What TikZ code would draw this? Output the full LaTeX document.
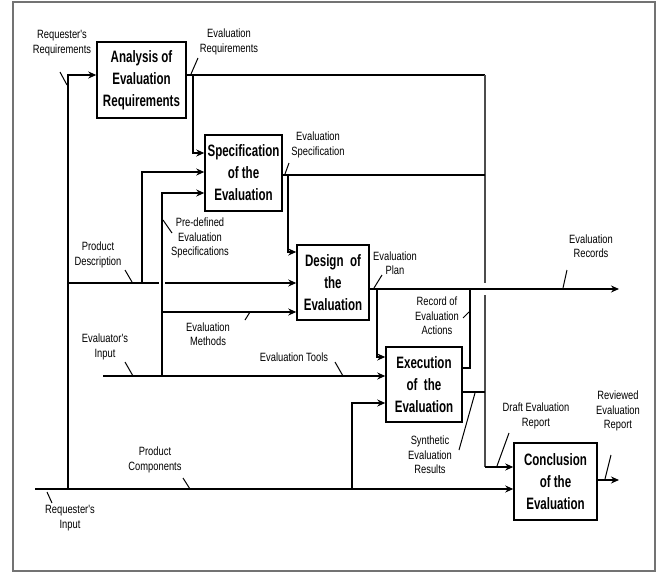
\documentclass[tikz,border=0pt]{standalone}
\usepackage{fontspec}
\setmainfont{Liberation Sans}
\newfontfamily\lblfont[FakeStretch=0.78]{Liberation Sans}
\newfontfamily\bxfont[FakeStretch=0.70]{Liberation Sans Bold}
\usetikzlibrary{arrows.meta}
\begin{document}
\begin{tikzpicture}[x=1pt,y=-1pt,
  procbox/.style={draw=black, line width=1.5pt, fill=white, inner sep=0pt, align=center,
    font=\bxfont\fontsize{16.5}{22}\selectfont},
  lbl/.style={inner sep=0pt, align=center, font=\lblfont\fontsize{12}{14.5}\selectfont},
  ln/.style={draw=black, line width=1.4pt},
  vln/.style={draw=black!70, line width=1.6pt},
  arr/.style={-{Stealth[length=8pt,width=7pt]}},
  tick/.style={draw=black, line width=1pt}]
\useasboundingbox (0,0) rectangle (659,573);
\draw[black!55, line width=2pt] (13,2) rectangle (655,571);

% boxes
\node[procbox, minimum width=89pt, minimum height=76pt] (A) at (141.5,80) {Analysis of\\Evaluation\\Requirements};
\node[procbox, minimum width=77pt, minimum height=76pt] (S) at (243.5,173) {Specification\\of the\\Evaluation};
\node[procbox, minimum width=72pt, minimum height=75pt] (D) at (333,282.5) {Design\ \ of\\the\\Evaluation};
\node[procbox, minimum width=76pt, minimum height=75pt] (E) at (424,384.5) {Execution\\of\ \ the\\Evaluation};
\node[procbox, minimum width=83pt, minimum height=77pt] (C) at (555.5,481.5) {Conclusion\\of the\\Evaluation};

% junction coordinates
\coordinate (rin) at (35,489);
\coordinate (rj) at (68,489);
\coordinate (rt) at (68,75);
\coordinate (pdj) at (68,283);
\coordinate (pdg1) at (159,283);
\coordinate (pdg2) at (165,283);
\coordinate (pdb) at (142,283);
\coordinate (pdt) at (142,172);
\coordinate (ein) at (103,376);
\coordinate (ej) at (162,376);
\coordinate (emj) at (162,312);
\coordinate (ept) at (162,193);
\coordinate (pcj) at (352,489);
\coordinate (pct) at (352,403);
\coordinate (aoj) at (193,75);
\coordinate (aot) at (193,153);
\coordinate (vtop) at (485,75);
\coordinate (vg1) at (485,283);
\coordinate (vg2) at (485,295);
\coordinate (vbot) at (485,467);
\coordinate (so) at (288,175);
\coordinate (st) at (288,252);
\coordinate (sv) at (485,175);
\coordinate (pj) at (377,289);
\coordinate (pt) at (377,357);
\coordinate (rec) at (470,289);
\coordinate (rend) at (619,289);
\coordinate (rx) at (470,368);
\coordinate (sy) at (485,392);
\coordinate (cout) at (597,480);
\coordinate (cend) at (619,480);

% connectors
\draw[ln,arr] (rin) -- (C.west |- rin);
\draw[ln,arr] (rj) -- (rt) -- (A.west |- rt);
\draw[ln] (pdj) -- (pdg1);
\draw[ln,arr] (pdg2) -- (D.west |- pdg2);
\draw[ln,arr] (pdb) -- (pdt) -- (S.west |- pdt);
\draw[ln,arr] (ein) -- (E.west |- ein);
\draw[ln,arr] (ej) -- (ept) -- (S.west |- ept);
\draw[ln,arr] (emj) -- (D.west |- emj);
\draw[ln,arr] (pcj) -- (pct) -- (E.west |- pct);
\draw[ln] (A.east |- aoj) -- (vtop);
\draw[ln,arr] (aoj) -- (aot) -- (S.west |- aot);
\draw[vln] (vtop) -- (vg1);
\draw[vln] (vg2) -- (vbot);
\draw[ln,arr] (vbot) -- (C.west |- vbot);
\draw[ln] (S.east |- so) -- (sv);
\draw[ln,arr] (so) -- (st) -- (D.west |- st);
\draw[ln,arr] (D.east |- pj) -- (rend);
\draw[ln,arr] (pj) -- (pt) -- (E.west |- pt);
\draw[ln] (E.east |- rx) -- (rx) -- (rec);
\draw[ln] (E.east |- sy) -- (sy);
\draw[ln,arr] (C.east |- cout) -- (cend);

% labels
\node[lbl] (l1) at (62,43) {Requester's\\Requirements};
\node[lbl] (l2) at (229,42) {Evaluation\\Requirements};
\node[lbl] (l3) at (318,145) {Evaluation\\Specification};
\node[lbl] (l4) at (200,238) {Pre-defined\\Evaluation\\Specifications};
\node[lbl] (l5) at (98,255) {Product\\Description};
\node[lbl] (l6) at (208,334) {Evaluation\\Methods};
\node[lbl] (l7) at (105,347) {Evaluator's\\Input};
\node[lbl] (l8) at (294,357) {Evaluation Tools};
\node[lbl] (l9) at (395,263) {Evaluation\\Plan};
\node[lbl] (l10) at (591,246) {Evaluation\\Records};
\node[lbl] (l11) at (437,316) {Record of\\Evaluation\\Actions};
\node[lbl] (l12) at (430,455) {Synthetic\\Evaluation\\Results};
\node[lbl] (l13) at (536,416) {Draft Evaluation\\Report};
\node[lbl] (l14) at (618,411) {Reviewed\\Evaluation\\Report};
\node[lbl] (l15) at (155,460) {Product\\Components};
\node[lbl] (l16) at (70,518) {Requester's\\Input};

% label ticks
\draw[tick] (60,72) -- (67,85);
\draw[tick] (198,58) -- (191,74);
\draw[tick] (289,163) -- (285,174);
\draw[tick] (163,220) -- (172,233);
\draw[tick] (125,270) -- (132,282);
\draw[tick] (245,320) -- (250,312);
\draw[tick] (125,362) -- (133,376);
\draw[tick] (335,362) -- (343,376);
\draw[tick] (382,275) -- (374,288);
\draw[tick] (567,270) -- (563,288);
\draw[tick] (463,318) -- (469,312);
\draw[tick] (459,450) -- (475,393);
\draw[tick] (509,433) -- (497,466);
\draw[tick] (611,455) -- (605,479);
\draw[tick] (183,478) -- (190,489);
\draw[tick] (47,492) -- (52,503);
\end{tikzpicture}
\end{document}
